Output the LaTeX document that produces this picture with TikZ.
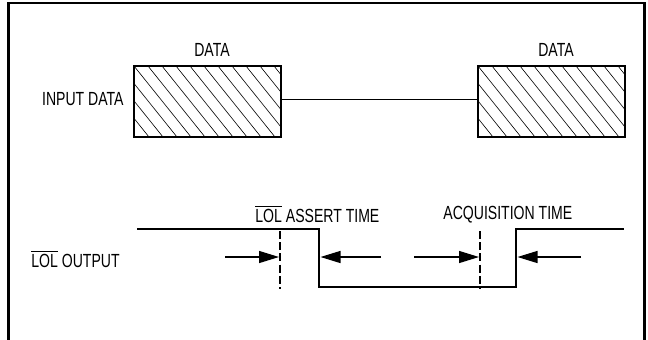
\documentclass[tikz,border=0pt]{standalone}
\usepackage{fontspec}
\setmainfont{Liberation Sans}[FakeStretch=0.74]
\usetikzlibrary{arrows.meta}
\newcommand{\notlol}{$\overline{\mbox{LOL}}$}

\begin{document}
\begin{tikzpicture}[x=0.5pt, y=-0.5pt,
        lbl/.style={font=\fontsize{9.5}{10}\selectfont, inner sep=0pt},
        hatch/.style={line width=0.3pt},
        databox/.style={draw, line width=0.75pt, minimum width=73.5pt, minimum height=35.5pt, inner sep=0pt,
            path picture={
                \foreach \i in {-5,...,11}
                    \draw[hatch] ([xshift=\i*7pt]path picture bounding box.north west) -- ++(28.5pt,-35.5pt);
            }},
        wave/.style={line width=0.85pt},
        marker/.style={line width=0.7pt, dash pattern=on 4pt off 1.6pt},
        timearrow/.style={-{Triangle[length=10pt,width=6pt]}, line width=0.65pt}]
            \useasboundingbox (0,0) rectangle (648,339);
            % outer frame, open at the bottom
            \draw[line width=1.25pt] (8.5,345) -- (8.5,3) -- (644.5,3) -- (644.5,345);

            % input data
            \node[databox] (boxA) at (207.5,101.5) {};
            \node[databox] (boxB) at (551.5,101.5) {};
            \draw[wave] ([yshift=1pt]boxA.east) -- ([yshift=1pt]boxB.west);
            \node[lbl, anchor=base] (dataA) at (212,56.5) {DATA};
            \node[lbl, anchor=base] (dataB) at (556,56.5) {DATA};
            \node[lbl, anchor=base east] (input) at (124,105) {INPUT DATA};

            % LOL output
            \coordinate (w0) at (137,229);
            \coordinate (w1) at (319,229);
            \coordinate (w2) at (319,287);
            \coordinate (w3) at (516,287);
            \coordinate (w4) at (516,229);
            \coordinate (w5) at (624,229);
            \draw[wave] (w0) -- (w1) -- (w2) -- (w3) -- (w4) -- (w5);

            \coordinate (mA) at (280,231);
            \coordinate (mB) at (480,231);
            \draw[marker] (mA) -- ++(0,58);
            \draw[marker] (mB) -- ++(0,58);

            \coordinate (a1) at (225,257);
            \coordinate (t1) at (279,257);
            \coordinate (a2) at (381,257);
            \coordinate (t2) at (320.5,257);
            \coordinate (a3) at (414,257);
            \coordinate (t3) at (479,257);
            \coordinate (a4) at (581,257);
            \coordinate (t4) at (517.5,257);
            \draw[timearrow] (a1) -- (t1);
            \draw[timearrow] (a2) -- (t2);
            \draw[timearrow] (a3) -- (t3);
            \draw[timearrow] (a4) -- (t4);

            \node[lbl, anchor=base west] (assert) at (255,222) {\notlol{} ASSERT TIME};
            \node[lbl, anchor=base west] (acq) at (443,219.5) {ACQUISITION TIME};
            \node[lbl, anchor=base west] (output) at (31,267.5) {\notlol{} OUTPUT};
\end{tikzpicture}
\end{document}
